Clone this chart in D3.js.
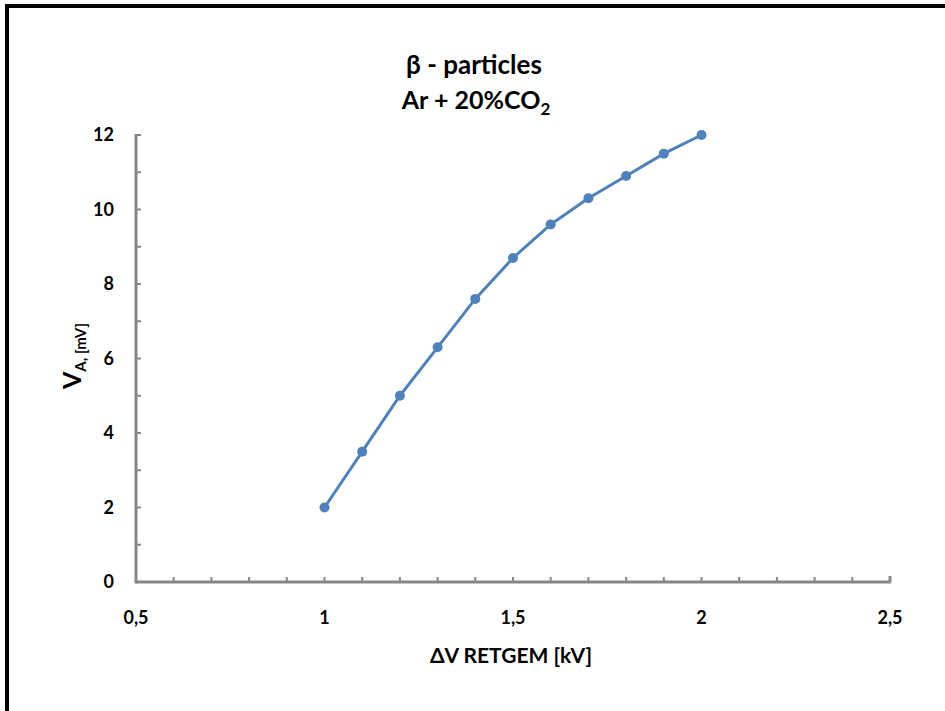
<!DOCTYPE html>
<html>
<head>
<meta charset="utf-8">
<script src="https://cdn.jsdelivr.net/npm/d3@7"></script>
<style>
  body { margin: 0; background: #fff; }
  svg text { font-family: Lato, "Open Sans", sans-serif; font-weight: bold; fill: #000; }
</style>
</head>
<body>
<div id="chart"></div>
<script>
var voltage = [1, 1.1, 1.2, 1.3, 1.4, 1.5, 1.6, 1.7, 1.8, 1.9, 2];
var signal = [2, 3.5, 5, 6.3, 7.6, 8.7, 9.6, 10.3, 10.9, 11.5, 12];
var xTicks = [0.5, 1, 1.5, 2, 2.5];
var yTicks = [0, 2, 4, 6, 8, 10, 12];

var width = 945,
  height = 711,
  margin = { top: 135, right: 55, bottom: 129, left: 136 };

var svg = d3.select('#chart')
  .append('svg')
  .attr('width', width)
  .attr('height', height);

// outer frame (right/bottom edges fall outside the picture)
svg.append('rect')
  .attr('x', 7).attr('y', 6)
  .attr('width', 960).attr('height', 730)
  .attr('fill', 'none')
  .attr('stroke', '#000')
  .attr('stroke-width', 4);

var x = d3.scaleLinear().domain([0.5, 2.5]).range([margin.left, width - margin.right]);
var y = d3.scaleLinear().domain([0, 12]).range([height - margin.bottom, margin.top]);

var fmt = function(d) { return String(d).replace('.', ','); };
var axisColour = '#868686';

// minor ticks
var g = svg.append('g');
g.selectAll('.xminor')
  .data(d3.range(0.6, 2.5, 0.1))
  .enter().append('line')
  .attr('x1', function(d) { return x(d); })
  .attr('x2', function(d) { return x(d); })
  .attr('y1', y(0)).attr('y2', y(0) - 5)
  .attr('stroke', axisColour).attr('stroke-width', 2);

g.selectAll('.yminor')
  .data(d3.range(1, 12.5, 1))
  .enter().append('line')
  .attr('x1', x(0.5)).attr('x2', x(0.5) + 5)
  .attr('y1', function(d) { return y(d); })
  .attr('y2', function(d) { return y(d); })
  .attr('stroke', axisColour).attr('stroke-width', 2);

// axis lines
g.append('line')
  .attr('x1', x(0.5)).attr('x2', x(2.5) + 1)
  .attr('y1', y(0)).attr('y2', y(0))
  .attr('stroke', axisColour).attr('stroke-width', 3);
g.append('line')
  .attr('x1', x(0.5)).attr('x2', x(0.5))
  .attr('y1', y(0) + 1.5).attr('y2', y(12) - 1)
  .attr('stroke', axisColour).attr('stroke-width', 3);
g.append('line')
  .attr('x1', x(2.5)).attr('x2', x(2.5))
  .attr('y1', y(0)).attr('y2', y(0) - 6)
  .attr('stroke', axisColour).attr('stroke-width', 3);

// tick labels
svg.selectAll('.xlab')
  .data(xTicks)
  .enter().append('text')
  .attr('x', function(d) { return x(d); })
  .attr('y', y(0) + 42)
  .attr('text-anchor', 'middle')
  .attr('font-size', 18)
  .text(fmt);

svg.selectAll('.ylab')
  .data(yTicks)
  .enter().append('text')
  .attr('x', x(0.5) - 22)
  .attr('y', function(d) { return y(d) + 6; })
  .attr('text-anchor', 'end')
  .attr('font-size', 18)
  .text(fmt);

// line and markers
var line = d3.line()
  .x(function(d, i) { return x(voltage[i]); })
  .y(function(d) { return y(d); });

svg.append('path')
  .datum(signal)
  .attr('d', line)
  .attr('fill', 'none')
  .attr('stroke', '#4f81bd')
  .attr('stroke-width', 3);

svg.selectAll('.dot')
  .data(signal)
  .enter().append('circle')
  .attr('cx', function(d, i) { return x(voltage[i]); })
  .attr('cy', function(d) { return y(d); })
  .attr('r', 5)
  .attr('fill', '#4f81bd');

// titles
svg.append('text')
  .attr('x', 474).attr('y', 74)
  .attr('text-anchor', 'middle')
  .attr('font-size', 26)
  .text('β - particles');

var t2 = svg.append('text')
  .attr('x', 476).attr('y', 109)
  .attr('text-anchor', 'middle')
  .attr('font-size', 25);
t2.append('tspan').text('Ar + 20%CO');
t2.append('tspan').attr('dy', 6).attr('font-size', 17).text('2');

svg.append('text')
  .attr('x', 511).attr('y', 663)
  .attr('text-anchor', 'middle')
  .attr('font-size', 21)
  .text('ΔV RETGEM [kV]');

var yl = svg.append('text')
  .attr('transform', 'translate(81,356) rotate(-90)')
  .attr('text-anchor', 'middle')
  .attr('font-size', 25);
yl.append('tspan').text('V');
yl.append('tspan').attr('dy', 5).attr('font-size', 15).text('A, [mV]');
</script>
</body>
</html>
